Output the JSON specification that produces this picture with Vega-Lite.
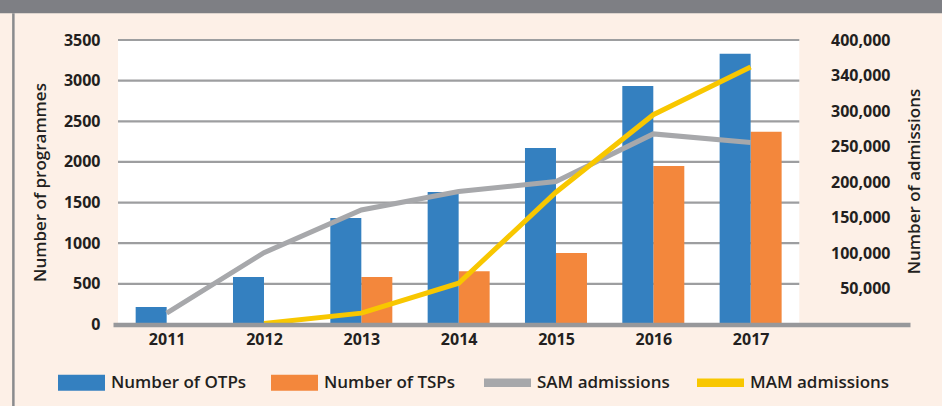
{
  "$schema": "https://vega.github.io/schema/vega-lite/v6.json",
  "width": 797,
  "height": 284.5,
  "autosize": {"type": "none"},
  "padding": {"left": 113, "top": 40, "right": 32, "bottom": 81.5},
  "background": "#FDF0E7",
  "config": {
    "view": {"stroke": null},
    "font": "Open Sans",
    "axis": {
      "ticks": false,
      "grid": false,
      "labelFontSize": 16,
      "labelFontWeight": "bold",
      "labelColor": "#231F20",
      "titleFontSize": 17,
      "titleFontWeight": 600,
      "titleColor": "#231F20"
    }
  },
  "datasets": {
    "prog": [
      {"year": 2011, "otp": 215, "tsp": null},
      {"year": 2012, "otp": 585, "tsp": null},
      {"year": 2013, "otp": 1310, "tsp": 585},
      {"year": 2014, "otp": 1630, "tsp": 655},
      {"year": 2015, "otp": 2170, "tsp": 880},
      {"year": 2016, "otp": 2935, "tsp": 1950},
      {"year": 2017, "otp": 3330, "tsp": 2370}
    ],
    "adm": [
      {"year": 2011, "sam": 16000, "mam": null},
      {"year": 2012, "sam": 101000, "mam": 1500},
      {"year": 2013, "sam": 161000, "mam": 16000},
      {"year": 2014, "sam": 187000, "mam": 58000},
      {"year": 2015, "sam": 201000, "mam": 186000},
      {"year": 2016, "sam": 268000, "mam": 295000},
      {"year": 2017, "sam": 256000, "mam": 362000}
    ],
    "grid": [
      {"g": 500}, {"g": 1000}, {"g": 1500}, {"g": 2000}, {"g": 2500}, {"g": 3000}, {"g": 3500}
    ],
    "legend": [
      {"series": "Number of OTPs"},
      {"series": "Number of TSPs"},
      {"series": "SAM admissions"},
      {"series": "MAM admissions"}
    ]
  },
  "resolve": {"scale": {"y": "independent"}},
  "layer": [
    {
      "layer": [
        {
          "data": {"values": [{"k": 1}]},
          "mark": {"type": "rect", "fill": "#7E7F84"},
          "encoding": {
            "x": {"datum": 2009, "type": "quantitative", "scale": {"domain": [2010.5, 2018.586], "nice": false, "zero": false},
              "axis": {"title": null, "values": [2011, 2012, 2013, 2014, 2015, 2016, 2017], "format": "d", "labelFlush": false, "domainColor": "#97989B", "domainWidth": 4.5, "labelPadding": 7, "zindex": 1}},
            "x2": {"datum": 2020},
            "y": {"datum": 3829, "type": "quantitative", "scale": {"domain": [0, 3500], "nice": false},
              "axis": {"title": "Number of programmes", "values": [0, 500, 1000, 1500, 2000, 2500, 3000, 3500], "format": "d", "domain": false, "labelPadding": 13, "titleX": -73, "titleY": 142, "titleAngle": 270, "titleAlign": "center", "titleBaseline": "middle"}},
            "y2": {"datum": 4300}
          }
        },
        {
          "data": {"values": [{"k": 1}]},
          "mark": {"type": "rule", "color": "#8A8B8E", "strokeWidth": 2.5},
          "encoding": {
            "x": {"datum": 2009.425, "type": "quantitative",
              "axis": {"title": null, "values": [2011, 2012, 2013, 2014, 2015, 2016, 2017], "format": "d", "labelFlush": false, "domainColor": "#97989B", "domainWidth": 4.5, "labelPadding": 7, "zindex": 1}},
            "y": {"datum": 3829, "type": "quantitative",
              "axis": {"title": "Number of programmes", "values": [0, 500, 1000, 1500, 2000, 2500, 3000, 3500], "format": "d", "domain": false, "labelPadding": 13, "titleX": -73, "titleY": 142, "titleAngle": 270, "titleAlign": "center", "titleBaseline": "middle"}},
            "y2": {"datum": -1300}
          }
        },
        {
          "data": {"values": [{"k": 1}]},
          "mark": {"type": "rect", "fill": "#FFFFFF"},
          "encoding": {
            "x": {"datum": 2010.5, "type": "quantitative",
              "axis": {"title": null, "values": [2011, 2012, 2013, 2014, 2015, 2016, 2017], "format": "d", "labelFlush": false, "domainColor": "#97989B", "domainWidth": 4.5, "labelPadding": 7, "zindex": 1}},
            "x2": {"datum": 2017.5},
            "y": {"datum": 0, "type": "quantitative",
              "axis": {"title": "Number of programmes", "values": [0, 500, 1000, 1500, 2000, 2500, 3000, 3500], "format": "d", "domain": false, "labelPadding": 13, "titleX": -73, "titleY": 142, "titleAngle": 270, "titleAlign": "center", "titleBaseline": "middle"}},
            "y2": {"datum": 3500}
          }
        },
        {
          "data": {"name": "grid"},
          "mark": {"type": "rule", "color": "#9D9EA0", "strokeWidth": 2.2},
          "encoding": {
            "x": {"datum": 2010.5, "type": "quantitative",
              "axis": {"title": null, "values": [2011, 2012, 2013, 2014, 2015, 2016, 2017], "format": "d", "labelFlush": false, "domainColor": "#97989B", "domainWidth": 4.5, "labelPadding": 7, "zindex": 1}},
            "x2": {"datum": 2017.5},
            "y": {"field": "g", "type": "quantitative",
              "axis": {"title": "Number of programmes", "values": [0, 500, 1000, 1500, 2000, 2500, 3000, 3500], "format": "d", "domain": false, "labelPadding": 13, "titleX": -73, "titleY": 142, "titleAngle": 270, "titleAlign": "center", "titleBaseline": "middle"}}
          }
        },
        {
          "data": {"name": "prog"},
          "mark": {"type": "bar", "width": 31, "xOffset": 15.5, "color": "#F3873C"},
          "encoding": {
            "x": {"field": "year", "type": "quantitative",
              "axis": {"title": null, "values": [2011, 2012, 2013, 2014, 2015, 2016, 2017], "format": "d", "labelFlush": false, "domainColor": "#97989B", "domainWidth": 4.5, "labelPadding": 7, "zindex": 1}},
            "y": {"field": "tsp", "type": "quantitative",
              "axis": {"title": "Number of programmes", "values": [0, 500, 1000, 1500, 2000, 2500, 3000, 3500], "format": "d", "domain": false, "labelPadding": 13, "titleX": -73, "titleY": 142, "titleAngle": 270, "titleAlign": "center", "titleBaseline": "middle"}}
          }
        },
        {
          "data": {"name": "prog"},
          "mark": {"type": "bar", "width": 31, "xOffset": -15.5, "color": "#3480C0"},
          "encoding": {
            "x": {"field": "year", "type": "quantitative",
              "axis": {"title": null, "values": [2011, 2012, 2013, 2014, 2015, 2016, 2017], "format": "d", "labelFlush": false, "domainColor": "#97989B", "domainWidth": 4.5, "labelPadding": 7, "zindex": 1}},
            "y": {"field": "otp", "type": "quantitative",
              "axis": {"title": "Number of programmes", "values": [0, 500, 1000, 1500, 2000, 2500, 3000, 3500], "format": "d", "domain": false, "labelPadding": 13, "titleX": -73, "titleY": 142, "titleAngle": 270, "titleAlign": "center", "titleBaseline": "middle"}}
          }
        }
      ]
    },
    {
      "layer": [
        {
          "data": {"name": "adm"},
          "mark": {"type": "line", "color": "#A7A8AB", "strokeWidth": 5},
          "encoding": {
            "x": {"field": "year", "type": "quantitative",
              "axis": {"title": null, "values": [2011, 2012, 2013, 2014, 2015, 2016, 2017], "format": "d", "labelFlush": false, "domainColor": "#97989B", "domainWidth": 4.5, "labelPadding": 7, "zindex": 1}},
            "y": {"field": "sam", "type": "quantitative", "scale": {"domain": [0, 400000], "nice": false},
              "axis": {"orient": "right", "title": "Number of admissions", "values": [50000, 100000, 150000, 200000, 250000, 300000, 350000, 400000], "labelExpr": "datum.value == 350000 ? '340,000' : format(datum.value, ',')", "domain": false, "labelAlign": "right", "labelPadding": -20, "titleX": 4, "titleY": 141, "titleAngle": 270, "titleAlign": "center", "titleBaseline": "middle"}}
          }
        },
        {
          "data": {"name": "adm"},
          "mark": {"type": "line", "color": "#F8C700", "strokeWidth": 5},
          "encoding": {
            "x": {"field": "year", "type": "quantitative",
              "axis": {"title": null, "values": [2011, 2012, 2013, 2014, 2015, 2016, 2017], "format": "d", "labelFlush": false, "domainColor": "#97989B", "domainWidth": 4.5, "labelPadding": 7, "zindex": 1}},
            "y": {"field": "mam", "type": "quantitative",
              "axis": {"orient": "right", "title": "Number of admissions", "values": [50000, 100000, 150000, 200000, 250000, 300000, 350000, 400000], "labelExpr": "datum.value == 350000 ? '340,000' : format(datum.value, ',')", "domain": false, "labelAlign": "right", "labelPadding": -20, "titleX": 4, "titleY": 141, "titleAngle": 270, "titleAlign": "center", "titleBaseline": "middle"}}
          }
        },
        {
          "data": {"name": "legend"},
          "mark": {"type": "point", "filled": true, "opacity": 1},
          "encoding": {
            "x": {"field": "none", "type": "quantitative",
              "axis": {"title": null, "values": [2011, 2012, 2013, 2014, 2015, 2016, 2017], "format": "d", "labelFlush": false, "domainColor": "#97989B", "domainWidth": 4.5, "labelPadding": 7, "zindex": 1}},
            "y": {"field": "none", "type": "quantitative",
              "axis": {"orient": "right", "title": "Number of admissions", "values": [50000, 100000, 150000, 200000, 250000, 300000, 350000, 400000], "labelExpr": "datum.value == 350000 ? '340,000' : format(datum.value, ',')", "domain": false, "labelAlign": "right", "labelPadding": -20, "titleX": 4, "titleY": 141, "titleAngle": 270, "titleAlign": "center", "titleBaseline": "middle"}},
            "color": {
              "field": "series",
              "type": "nominal",
              "scale": {
                "domain": ["Number of OTPs", "Number of TSPs", "SAM admissions", "MAM admissions"],
                "range": ["#3480C0", "#F3873C", "#A7A8AB", "#F8C700"]
              },
              "legend": {
                "title": null, "orient": "none", "legendX": -55, "legendY": 319, "direction": "horizontal", "columns": 4, "gridAlign": "all", "columnPadding": 20, "padding": 0, "symbolSize": 2209, "symbolStrokeWidth": 0, "labelFontSize": 17, "labelFontWeight": 600, "labelColor": "#231F20", "labelOffset": 6
              }
            },
            "shape": {
              "field": "series",
              "type": "nominal",
              "scale": {
                "domain": ["Number of OTPs", "Number of TSPs", "SAM admissions", "MAM admissions"],
                "range": ["M-1,-0.34H1V0.34H-1Z", "M-1,-0.34H1V0.34H-1Z", "M-1,-0.18H1V0.18H-1Z", "M-1,-0.18H1V0.18H-1Z"]
              },
              "legend": {
                "title": null, "orient": "none", "legendX": -55, "legendY": 319, "direction": "horizontal", "columns": 4, "gridAlign": "all", "columnPadding": 20, "padding": 0, "symbolSize": 2209, "symbolStrokeWidth": 0, "labelFontSize": 17, "labelFontWeight": 600, "labelColor": "#231F20", "labelOffset": 6
              }
            }
          }
        }
      ]
    }
  ]
}
